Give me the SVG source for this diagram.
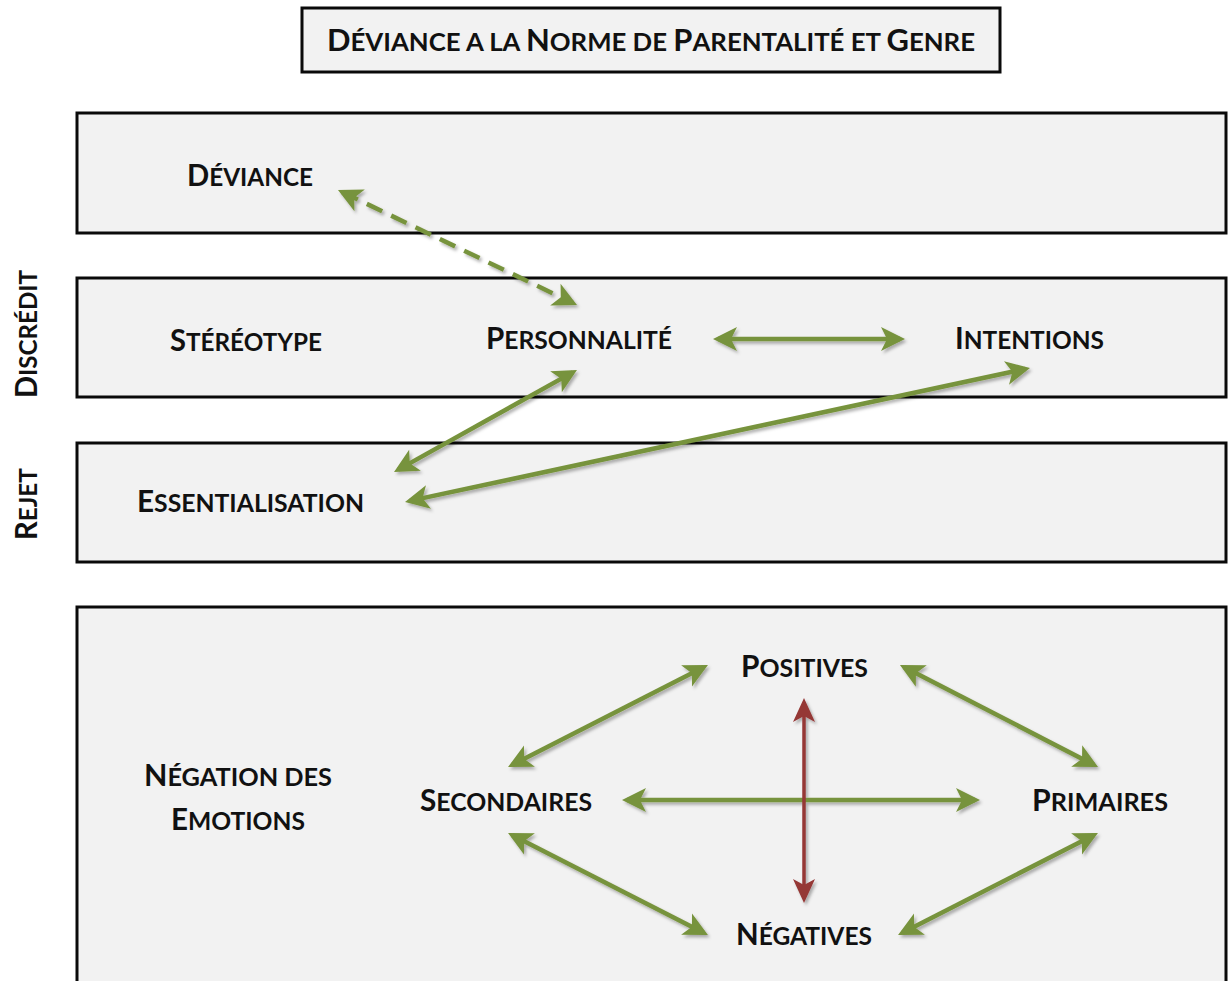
<svg xmlns="http://www.w3.org/2000/svg" width="1228" height="981" viewBox="0 0 1228 981">
<style>
.box{fill:#f2f2f2;stroke:#0a0a0a;stroke-width:3}
.t{font-family:Lato,"Open Sans","Liberation Sans",sans-serif;font-weight:bold;fill:#111}
.b{font-size:30px}
.s{font-size:25px}
.g{fill:none;stroke:#77933c;stroke-width:4.5}
.r{fill:none;stroke:#953735;stroke-width:3.5}
.d{stroke-dasharray:17 10}
</style>
<defs>
<marker id="ag" viewBox="-25 -13 31 26" markerWidth="31" markerHeight="26" refX="0" refY="0" markerUnits="userSpaceOnUse" orient="auto-start-reverse">
<path d="M5,0 L-19,-12 L-13,0 L-19,12 Z" fill="#77933c"/>
</marker>
<marker id="ar" viewBox="-25 -13 31 26" markerWidth="31" markerHeight="26" refX="0" refY="0" markerUnits="userSpaceOnUse" orient="auto-start-reverse">
<path d="M5,0 L-19,-11 L-13,0 L-19,11 Z" fill="#953735"/>
</marker>
<filter id="sh" x="-10%" y="-10%" width="120%" height="120%">
<feDropShadow dx="2" dy="2.5" stdDeviation="1.5" flood-color="#000" flood-opacity="0.3"/>
</filter>
</defs>

<g id="title">
<rect class="box" x="302" y="8" width="698" height="64"/>
<text class="t" x="327" y="51" textLength="648" lengthAdjust="spacingAndGlyphs"><tspan class="b">D</tspan><tspan class="s">ÉVIANCE A LA </tspan><tspan class="b">N</tspan><tspan class="s">ORME DE </tspan><tspan class="b">P</tspan><tspan class="s">ARENTALITÉ ET </tspan><tspan class="b">G</tspan><tspan class="s">ENRE</tspan></text>
</g>

<g id="band-deviance"><rect class="box" x="77" y="113" width="1149" height="120"/></g>
<g id="band-discredit"><rect class="box" x="77" y="278" width="1149" height="119"/></g>
<g id="band-rejet"><rect class="box" x="77" y="443" width="1149" height="119"/></g>
<g id="band-emotions"><rect class="box" x="77" y="607" width="1149" height="380"/></g>

<g id="label-discredit"><text class="t" transform="translate(37,398) rotate(-90)" x="0" y="0" textLength="128" lengthAdjust="spacingAndGlyphs"><tspan class="b">D</tspan><tspan class="s">ISCRÉDIT</tspan></text></g>
<g id="label-rejet"><text class="t" transform="translate(37,540) rotate(-90)" x="0" y="0" textLength="72" lengthAdjust="spacingAndGlyphs"><tspan class="b">R</tspan><tspan class="s">EJET</tspan></text></g>

<g id="node-deviance"><text class="t" x="187" y="186" textLength="126" lengthAdjust="spacingAndGlyphs"><tspan class="b">D</tspan><tspan class="s">ÉVIANCE</tspan></text></g>
<g id="node-stereotype"><text class="t" x="170" y="351" textLength="152" lengthAdjust="spacingAndGlyphs"><tspan class="b">S</tspan><tspan class="s">TÉRÉOTYPE</tspan></text></g>
<g id="node-personnalite"><text class="t" x="486" y="349" textLength="186" lengthAdjust="spacingAndGlyphs"><tspan class="b">P</tspan><tspan class="s">ERSONNALITÉ</tspan></text></g>
<g id="node-intentions"><text class="t" x="955" y="349" textLength="149" lengthAdjust="spacingAndGlyphs"><tspan class="b">I</tspan><tspan class="s">NTENTIONS</tspan></text></g>
<g id="node-essentialisation"><text class="t" x="137" y="512" textLength="227" lengthAdjust="spacingAndGlyphs"><tspan class="b">E</tspan><tspan class="s">SSENTIALISATION</tspan></text></g>
<g id="node-negation">
<text class="t" x="144" y="786" textLength="188" lengthAdjust="spacingAndGlyphs"><tspan class="b">N</tspan><tspan class="s">ÉGATION DES</tspan></text>
<text class="t" x="171" y="830" textLength="134" lengthAdjust="spacingAndGlyphs"><tspan class="b">E</tspan><tspan class="s">MOTIONS</tspan></text>
</g>
<g id="node-positives"><text class="t" x="741" y="677" textLength="127" lengthAdjust="spacingAndGlyphs"><tspan class="b">P</tspan><tspan class="s">OSITIVES</tspan></text></g>
<g id="node-secondaires"><text class="t" x="420" y="811" textLength="172" lengthAdjust="spacingAndGlyphs"><tspan class="b">S</tspan><tspan class="s">ECONDAIRES</tspan></text></g>
<g id="node-primaires"><text class="t" x="1032" y="811" textLength="136" lengthAdjust="spacingAndGlyphs"><tspan class="b">P</tspan><tspan class="s">RIMAIRES</tspan></text></g>
<g id="node-negatives"><text class="t" x="736" y="945" textLength="136" lengthAdjust="spacingAndGlyphs"><tspan class="b">N</tspan><tspan class="s">ÉGATIVES</tspan></text></g>

<g id="connectors" filter="url(#sh)">
<line class="g d" x1="342.5" y1="192.2" x2="572.5" y2="302.8" marker-start="url(#ag)" marker-end="url(#ag)"/>
<line class="g" x1="718" y1="339" x2="900" y2="339" marker-start="url(#ag)" marker-end="url(#ag)"/>
<line class="g" x1="572.6" y1="372.4" x2="398.4" y2="469.6" marker-start="url(#ag)" marker-end="url(#ag)"/>
<line class="g" x1="1025.1" y1="369" x2="409.9" y2="500.9" marker-start="url(#ag)" marker-end="url(#ag)"/>
<line class="g" x1="703.5" y1="667.3" x2="512.5" y2="764.7" marker-start="url(#ag)" marker-end="url(#ag)"/>
<line class="g" x1="904.4" y1="667.3" x2="1093.6" y2="764.7" marker-start="url(#ag)" marker-end="url(#ag)"/>
<line class="g" x1="627" y1="800" x2="975" y2="800" marker-start="url(#ag)" marker-end="url(#ag)"/>
<line class="r" x1="804" y1="703" x2="804" y2="898" marker-start="url(#ar)" marker-end="url(#ar)"/>
<line class="g" x1="512.5" y1="835.3" x2="703.5" y2="932.7" marker-start="url(#ag)" marker-end="url(#ag)"/>
<line class="g" x1="1093.5" y1="835.3" x2="902.5" y2="932.7" marker-start="url(#ag)" marker-end="url(#ag)"/>
</g>
</svg>
